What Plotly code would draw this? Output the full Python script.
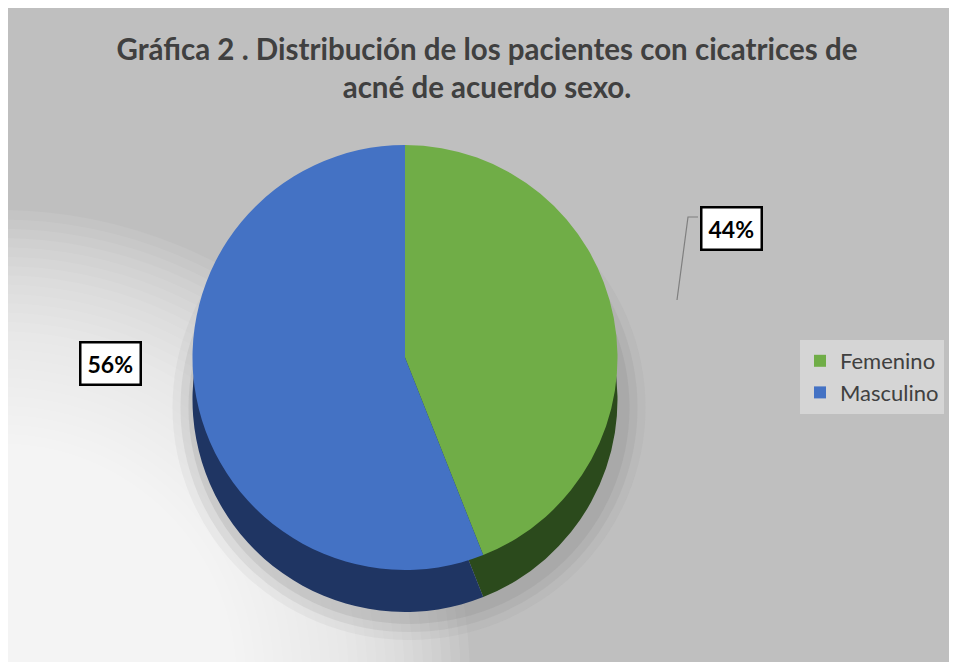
import plotly.graph_objects as go

# ---- data ----
categories = ["Femenino", "Masculino"]
values = [44, 56]
top_colors = ["#70ad47", "#4472c4"]
side_colors = ["#2b4a1c", "#1f3563"]
title_text = "Gráfica 2 . Distribución de los pacientes con cicatrices de<br>acné de acuerdo sexo."

W, H = 957, 662
OFF = 8  # page body margin


def px(x):
    return (x - OFF) / W


def py(y):
    return 1 - (y - OFF) / H


total = sum(values)
pct_labels = [f"{v / total * 100:.0f}%" for v in values]

# pie geometry (screen pixels)
cx, top, D, depth = 405, 145, 425, 42

fig = go.Figure()

# depth (side) of the pie
fig.add_trace(go.Pie(
    labels=categories, values=values, sort=False, direction="clockwise", rotation=0,
    marker=dict(colors=side_colors, line=dict(width=0)),
    textinfo="none", hoverinfo="skip", showlegend=False,
    domain=dict(x=[px(cx - D / 2), px(cx + D / 2)], y=[py(top + depth + D), py(top + depth)]),
))
# top face
fig.add_trace(go.Pie(
    labels=categories, values=values, sort=False, direction="clockwise", rotation=0,
    marker=dict(colors=top_colors, line=dict(width=0)),
    textinfo="none", showlegend=True,
    domain=dict(x=[px(cx - D / 2), px(cx + D / 2)], y=[py(top + D), py(top)]),
))

shapes = []
# soft radial light glow at lower left
gcx, gcy = 0, 680
n = 30
for i in range(n):
    r = 470 - i * (270 / (n - 1))
    shapes.append(dict(type="circle", xref="paper", yref="paper",
                       x0=px(gcx - r), x1=px(gcx + r),
                       y0=py(gcy + r), y1=py(gcy - r),
                       fillcolor="white", opacity=0.08, line=dict(width=0), layer="below"))
# soft shadow under pie
for (grow, op) in [(24, 0.08), (16, 0.12), (8, 0.16)]:
    shapes.append(dict(type="circle", xref="paper", yref="paper",
                       x0=px(cx - D / 2 - grow + 4), x1=px(cx + D / 2 + grow + 4),
                       y0=py(top + depth + D + grow + 4), y1=py(top + depth - grow + 12),
                       fillcolor="#7f7f7f", opacity=op, line=dict(width=0), layer="below"))
# leader line for the 44% label
shapes.append(dict(type="path", xref="paper", yref="paper",
                   path=f"M {px(698)},{py(217)} L {px(688)},{py(217)} L {px(677)},{py(300)}",
                   line=dict(color="#7f7f7f", width=1.2), layer="above"))

label_font = dict(family="Lato, Open Sans, sans-serif", size=23, color="black", weight="bold")
annotations = [
    dict(text=pct_labels[0], xref="paper", yref="paper", x=px(731), y=py(229),
         xanchor="center", yanchor="middle", showarrow=False, font=label_font,
         bgcolor="white", bordercolor="black", borderwidth=2.5, borderpad=6),
    dict(text=pct_labels[1], xref="paper", yref="paper", x=px(110), y=py(363),
         xanchor="center", yanchor="middle", showarrow=False, font=label_font,
         bgcolor="white", bordercolor="black", borderwidth=2.5, borderpad=6),
]

fig.update_layout(
    width=W, height=H,
    margin=dict(l=0, r=0, t=0, b=0),
    paper_bgcolor="#bfbfbf",
    plot_bgcolor="#bfbfbf",
    title=dict(text=title_text, x=px(487), xanchor="center", y=py(60), yanchor="top",
               font=dict(family="Lato, Open Sans, sans-serif", size=29.5, color="#404040",
                         weight="bold")),
    legend=dict(x=px(800), y=py(340), xanchor="left", yanchor="top",
                bgcolor="#d5d5d5", borderwidth=0,
                font=dict(family="Lato, Open Sans, sans-serif", size=22, color="#404040"),
                itemwidth=30),
    shapes=shapes,
    annotations=annotations,
)

fig.write_html("out.html")
